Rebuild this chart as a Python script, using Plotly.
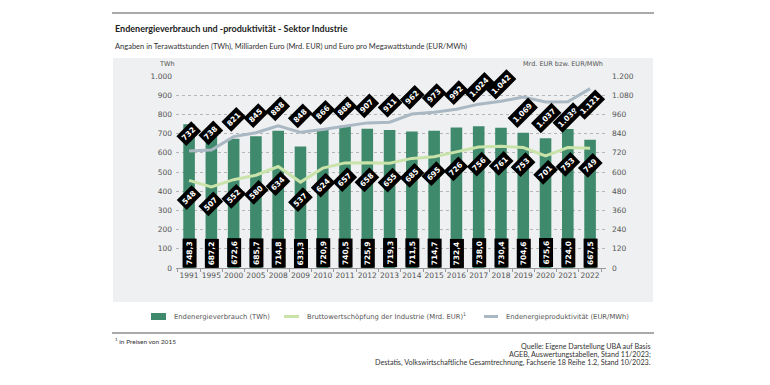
import plotly.graph_objects as go

years = ["1991", "1995", "2000", "2005", "2008", "2009", "2010", "2011", "2012", "2013",
         "2014", "2015", "2016", "2017", "2018", "2019", "2020", "2021", "2022"]
energy_twh = [748.3, 687.2, 672.6, 685.7, 714.8, 633.3, 720.9, 740.5, 725.9, 719.3,
              711.5, 714.7, 732.4, 738.0, 730.4, 704.6, 675.6, 724.0, 667.5]
gva_bn_eur = [548, 507, 552, 580, 634, 537, 624, 657, 658, 655,
              685, 695, 726, 756, 761, 753, 701, 753, 749]
productivity = [732, 738, 821, 845, 888, 848, 866, 888, 907, 911,
                962, 973, 992, 1024, 1042, 1069, 1037, 1039, 1121]

names = ["Endenergieverbrauch (TWh)",
         "Bruttowertschöpfung der Industrie (Mrd. EUR)<sup>1</sup>",
         "Endenergieproduktivität (EUR/MWh)"]
source_lines = ["Quelle: Eigene Darstellung UBA auf Basis",
                "AGEB, Auswertungstabellen, Stand 11/2023;",
                "Destatis, Volkswirtschaftliche Gesamtrechnung, Fachserie 18 Reihe 1.2, Stand 10/2023."]

W, H = 770, 385
L, R, T, B = 176, 164, 76, 117
FONT = "DejaVu Sans"
TFONT = "Lato"

BAR_C = "#3f8a6c"
GVA_C = "#c9e3aa"
PROD_C = "#a9b8c3"
BAND_C = "#eef0f1"


def de_int(v):
    return f"{v:,.0f}".replace(",", ".")


def de_dec(v):
    return f"{v:.1f}".replace(".", ",")


def px_x(px):
    return (px - L) / (W - L - R)


def px_y(py):
    return (H - B - py) / (H - T - B)


fig = go.Figure()
fig.add_trace(go.Bar(x=years, y=energy_twh, name=names[0],
                     marker=dict(color=BAR_C, line=dict(width=0)), width=0.52,
                     hoverinfo="skip"))
fig.add_trace(go.Scatter(x=years, y=gva_bn_eur, yaxis="y2", mode="lines", name=names[1],
                         line=dict(color=GVA_C, width=3), hoverinfo="skip"))
fig.add_trace(go.Scatter(x=years, y=productivity, yaxis="y2", mode="lines", name=names[2],
                         line=dict(color=PROD_C, width=3), hoverinfo="skip"))

ann = []
lab_font = dict(family=FONT, size=7.5, color="white")
switch = years.index("2019")
for i, y in enumerate(years):
    ann.append(dict(x=i, y=0, xref="x", yref="y", text=f"<b>{de_dec(energy_twh[i])}</b>",
                    textangle=-90, showarrow=False, xanchor="center", yanchor="bottom",
                    bgcolor="black", borderpad=2, font=lab_font))
    ann.append(dict(x=i, y=gva_bn_eur[i], xref="x", yref="y2", text=f"<b>{de_int(gva_bn_eur[i])}</b>",
                    textangle=-45, showarrow=False, xanchor="center", yanchor="middle",
                    yshift=-17, bgcolor="black", borderpad=2, font=lab_font))
    shift = 17 if i < switch else -16
    ann.append(dict(x=i, y=productivity[i], xref="x", yref="y2", text=f"<b>{de_int(productivity[i])}</b>",
                    textangle=-45, showarrow=False, xanchor="center", yanchor="middle",
                    yshift=shift, bgcolor="black", borderpad=2, font=lab_font))

grey_txt = "#555555"
dark_txt = "#333333"
ann += [
    dict(x=px_x(113), y=px_y(28.5), xref="paper", yref="paper", xanchor="left", yanchor="middle",
         text="<b>Endenergieverbrauch und -produktivität - Sektor Industrie</b>", showarrow=False,
         font=dict(family=TFONT, size=9.0, color="#222222")),
    dict(x=px_x(113), y=px_y(47), xref="paper", yref="paper", xanchor="left", yanchor="middle",
         text="Angaben in Terawattstunden (TWh), Milliarden Euro (Mrd. EUR) und Euro pro Megawattstunde (EUR/MWh)",
         showarrow=False, font=dict(family=TFONT, size=7.5, color=dark_txt)),
    dict(x=px_x(167), y=px_y(64), xref="paper", yref="paper", xanchor="center", yanchor="middle",
         text="TWh", showarrow=False, font=dict(family=FONT, size=6.5, color=grey_txt)),
    dict(x=px_x(563), y=px_y(64), xref="paper", yref="paper", xanchor="center", yanchor="middle",
         text="Mrd. EUR bzw. EUR/MWh", showarrow=False, font=dict(family=FONT, size=6.5, color=grey_txt)),
    dict(x=px_x(113), y=px_y(341), xref="paper", yref="paper", xanchor="left", yanchor="middle",
         text="<sup>1</sup> in Preisen von 2015", showarrow=False,
         font=dict(family=TFONT, size=6.5, color=dark_txt)),
]
for k, line in enumerate(source_lines):
    ann.append(dict(x=px_x(653), y=px_y(346 + 8 * k), xref="paper", yref="paper",
                    xanchor="right", yanchor="middle", text=line, showarrow=False,
                    font=dict(family=TFONT, size=7.2, color=dark_txt)))

shapes = [
    dict(type="rect", xref="paper", yref="paper", x0=px_x(113), x1=px_x(653), y0=px_y(302), y1=px_y(58),
         fillcolor=BAND_C, line=dict(width=0), layer="below"),
    dict(type="line", xref="paper", yref="paper", x0=px_x(112), x1=px_x(654), y0=px_y(13), y1=px_y(13),
         line=dict(color="#555555", width=1)),
    dict(type="line", xref="paper", yref="paper", x0=px_x(112), x1=px_x(654), y0=px_y(333), y1=px_y(333),
         line=dict(color="#555555", width=1)),
]

# manual legend (symbols + texts)
leg_y = 316.5
leg_items = [(151, 166, BAR_C, "box", 172), (284, 299, GVA_C, "line", 305), (484, 498, PROD_C, "line", 504)]
for (x0, x1, col, kind, tx), nm in zip(leg_items, names):
    if kind == "box":
        shapes.append(dict(type="rect", xref="paper", yref="paper", x0=px_x(x0), x1=px_x(x1),
                           y0=px_y(leg_y + 3.5), y1=px_y(leg_y - 3.5), fillcolor=col, line=dict(width=0)))
    else:
        shapes.append(dict(type="line", xref="paper", yref="paper", x0=px_x(x0), x1=px_x(x1),
                           y0=px_y(leg_y), y1=px_y(leg_y), line=dict(color=col, width=3)))
    ann.append(dict(x=px_x(tx), y=px_y(leg_y), xref="paper", yref="paper", xanchor="left",
                    yanchor="middle", text=nm, showarrow=False,
                    font=dict(family=FONT, size=6.8, color=grey_txt)))

fig.update_layout(
    width=W, height=H, margin=dict(l=L, r=R, t=T, b=B, pad=0),
    paper_bgcolor="white", plot_bgcolor="rgba(0,0,0,0)",
    separators=",.", showlegend=False,
    font=dict(family=FONT, size=7.5, color=grey_txt),
    xaxis=dict(type="category", showgrid=False, showline=True, linecolor="#999999", linewidth=1,
               ticks="outside", tickson="boundaries", ticklen=3, tickcolor="#999999", tickangle=0,
               tickfont=dict(family=FONT, size=7.5, color=grey_txt), automargin=False),
    yaxis=dict(range=[0, 1000], dtick=100, tickformat=",d", showgrid=True, gridcolor="#b5b5b5",
               griddash="dot", gridwidth=1, zeroline=False, showline=False, automargin=False,
               tickfont=dict(family=FONT, size=7.5, color=grey_txt), ticks="", ticklabelstandoff=3),
    yaxis2=dict(range=[0, 1200], dtick=120, tickformat=",d", overlaying="y", side="right",
                showgrid=False, zeroline=False, showline=False, automargin=False,
                tickfont=dict(family=FONT, size=7.5, color=grey_txt), ticks="", ticklabelstandoff=5),
    annotations=ann, shapes=shapes,
)

fig.write_html("out.html", config={"displayModeBar": False},
               post_script="document.body.style.margin='0';")
